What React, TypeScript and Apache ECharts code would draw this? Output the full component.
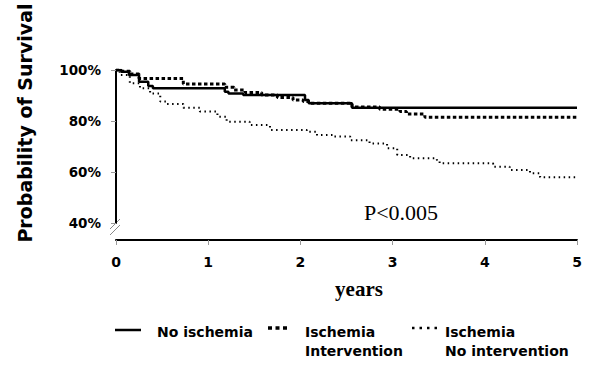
import React, { useEffect, useRef } from "react";
import * as echarts from "echarts";

const yTicks = [40, 60, 80, 100];
const xTicks = [0, 1, 2, 3, 4, 5];

// [years, survival %]
const noIschemia: [number, number][] = [
  [0, 100], [0.06, 99.3], [0.14, 98], [0.25, 95.4], [0.35, 93.7], [0.4, 92.8],
  [1.18, 91.5], [1.22, 90.8], [1.38, 90.2], [2.05, 88.2], [2.09, 87],
  [2.56, 85.2], [5, 85.2],
];
const ischemiaIntervention: [number, number][] = [
  [0, 100], [0.03, 99.5], [0.15, 98.4], [0.25, 96.7], [0.73, 94.5],
  [1.18, 93.2], [1.28, 92.2], [1.4, 91.2], [1.58, 90.2], [1.75, 89.2],
  [1.92, 88.2], [2.03, 87.6], [2.09, 87], [2.56, 85.5], [2.86, 84.6],
  [3.08, 83.7], [3.15, 82.7], [3.35, 81.5], [5, 81.5],
];
const ischemiaNoIntervention: [number, number][] = [
  [0, 100], [0.04, 98], [0.15, 94.8], [0.26, 92.8], [0.37, 90.8], [0.48, 87.6],
  [0.55, 86.7], [0.73, 85.2], [0.91, 83.7], [1.1, 81.7], [1.2, 79.7],
  [1.45, 78.4], [1.67, 76.5], [2.07, 75.8], [2.18, 74.5], [2.35, 73.9],
  [2.54, 72.5], [2.75, 71.2], [2.94, 69.3], [3.05, 66.7], [3.19, 65.4],
  [3.48, 64.7], [3.51, 63.4], [4.09, 62.1], [4.27, 60.8], [4.49, 59.5],
  [4.6, 57.9], [5, 57.9],
];

const seriesNames = ["No ischemia", "Ischemia\nIntervention", "Ischemia\nNo intervention"];
const yTitle = "Probability of Survival";
const xTitle = "years";
const pText = "P<0.005";

const BOLD = "'DejaVu Sans', sans-serif";
const SERIF = "'Liberation Serif', 'Times New Roman', serif";

export default function App() {
  const ref = useRef<HTMLDivElement>(null);
  useEffect(() => {
    if (!ref.current) return;
    const chart = echarts.init(ref.current, null, { renderer: "svg" });
    const legendRow1 = 332;
    const legendRow2 = 351;
    chart.setOption({
      animation: false,
      backgroundColor: "#ffffff",
      grid: { left: 116, right: 15, top: 70, bottom: 143 },
      xAxis: {
        type: "value",
        min: xTicks[0],
        max: xTicks[xTicks.length - 1],
        interval: 1,
        offset: 17,
        axisLine: { show: true, onZero: false, lineStyle: { color: "#000", width: 2 } },
        axisTick: { show: true, length: 5, lineStyle: { color: "#999", width: 1 } },
        axisLabel: {
          margin: 15,
          color: "#000",
          fontFamily: BOLD,
          fontWeight: "bold",
          fontSize: 14,
        },
        splitLine: { show: false },
      },
      yAxis: {
        type: "value",
        min: yTicks[0],
        max: yTicks[yTicks.length - 1],
        interval: 20,
        axisLine: { show: true, lineStyle: { color: "#000", width: 2 } },
        axisTick: { show: true, length: 5, lineStyle: { color: "#999", width: 1 } },
        axisLabel: {
          margin: 15,
          color: "#000",
          fontFamily: BOLD,
          fontWeight: "bold",
          fontSize: 13.5,
          formatter: (v: number) => v + "%",
        },
        splitLine: { show: false },
      },
      series: [
        {
          name: seriesNames[0],
          type: "line",
          step: "end",
          data: noIschemia,
          symbol: "none",
          lineStyle: { color: "#000", width: 2.5 },
          z: 3,
        },
        {
          name: seriesNames[1],
          type: "line",
          step: "end",
          data: ischemiaIntervention,
          symbol: "none",
          lineStyle: { color: "#000", width: 3, type: [3.5, 2.5] },
          z: 2,
        },
        {
          name: seriesNames[2],
          type: "line",
          step: "end",
          data: ischemiaNoIntervention,
          symbol: "none",
          lineStyle: { color: "#000", width: 2, type: [1.5, 3.5] },
          z: 1,
        },
      ],
      graphic: [
        {
          type: "text",
          x: 25,
          y: 123,
          rotation: Math.PI / 2,
          style: {
            text: yTitle,
            font: `bold 19px ${BOLD}`,
            fill: "#000",
            align: "center",
            verticalAlign: "middle",
          },
        },
        {
          type: "text",
          x: 359,
          y: 289,
          style: {
            text: xTitle,
            font: `bold 21px ${SERIF}`,
            fill: "#000",
            align: "center",
            verticalAlign: "middle",
          },
        },
        {
          type: "text",
          x: 401,
          y: 212,
          style: {
            text: pText,
            font: `22px ${SERIF}`,
            fill: "#000",
            align: "center",
            verticalAlign: "middle",
          },
        },
        // axis break marks
        {
          type: "line",
          shape: { x1: 110, y1: 229, x2: 120, y2: 219 },
          style: { stroke: "#888", lineWidth: 1 },
        },
        {
          type: "line",
          shape: { x1: 110, y1: 235, x2: 120, y2: 225 },
          style: { stroke: "#888", lineWidth: 1 },
        },
        // legend
        {
          type: "line",
          shape: { x1: 115, y1: legendRow1 - 2, x2: 141, y2: legendRow1 - 2 },
          style: { stroke: "#000", lineWidth: 2.5 },
        },
        {
          type: "text",
          x: 157,
          y: legendRow1,
          style: { text: "No ischemia", font: `bold 14px ${BOLD}`, fill: "#000", verticalAlign: "middle" },
        },
        {
          type: "line",
          shape: { x1: 268, y1: legendRow1 - 4, x2: 290, y2: legendRow1 - 4 },
          style: { stroke: "#000", lineWidth: 3.5, lineDash: [4, 3.5] },
        },
        {
          type: "text",
          x: 305,
          y: legendRow1,
          style: { text: "Ischemia", font: `bold 14px ${BOLD}`, fill: "#000", verticalAlign: "middle" },
        },
        {
          type: "text",
          x: 305,
          y: legendRow2,
          style: { text: "Intervention", font: `bold 14px ${BOLD}`, fill: "#000", verticalAlign: "middle" },
        },
        {
          type: "line",
          shape: { x1: 412, y1: legendRow1 - 4, x2: 440, y2: legendRow1 - 4 },
          style: { stroke: "#000", lineWidth: 2.5, lineDash: [2.5, 5] },
        },
        {
          type: "text",
          x: 445,
          y: legendRow1,
          style: { text: "Ischemia", font: `bold 14px ${BOLD}`, fill: "#000", verticalAlign: "middle" },
        },
        {
          type: "text",
          x: 445,
          y: legendRow2,
          style: { text: "No intervention", font: `bold 14px ${BOLD}`, fill: "#000", verticalAlign: "middle" },
        },
      ],
    });
    return () => chart.dispose();
  }, []);
  return (
    <div
      ref={ref}
      style={{ position: "fixed", left: 0, top: 0, width: 592, height: 366, background: "#fff" }}
    />
  );
}
